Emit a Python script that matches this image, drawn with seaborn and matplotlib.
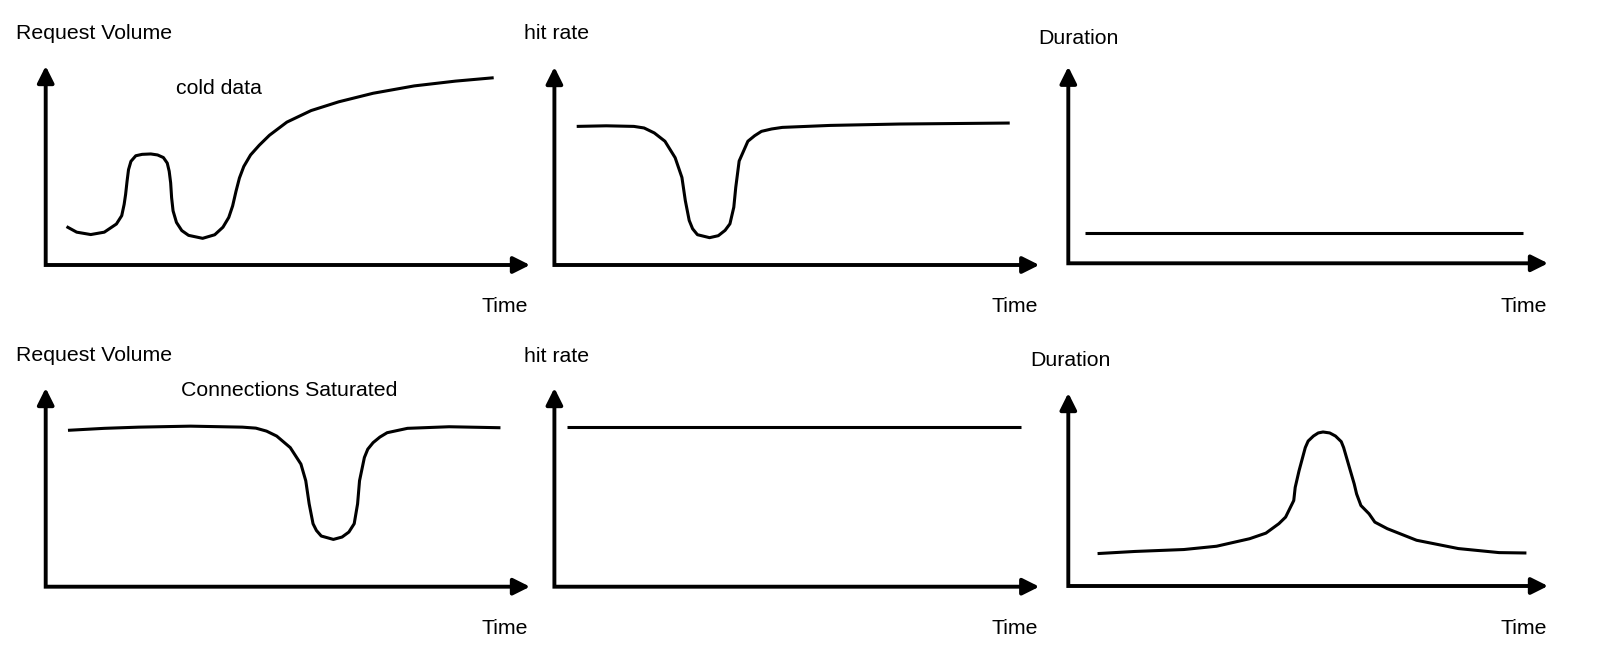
import matplotlib
matplotlib.use("Agg")
import matplotlib.pyplot as plt
import seaborn as sns
import pandas as pd

sns.set_style("white")
plt.rcParams["font.family"] = ["Liberation Sans", "DejaVu Sans"]

# ---- data (x: % of time axis length, y: % of value axis height) ----
vol_cold_x = [4.3, 6.4, 9.3, 12.1, 14.6, 15.7, 16.2, 16.5, 16.8, 17.1, 17.6, 18.6, 19.9, 21.7,
              23.1, 24.3, 25.1, 25.5, 25.8, 26.0, 26.3, 27.0, 28.1, 29.5, 32.4, 34.9, 36.6,
              37.8, 38.6, 39.3, 40.0, 40.9, 42.3, 44.1, 46.2, 49.8, 54.8, 60.5, 67.6, 76.1,
              84.6, 92.5]
vol_cold_y = [19.3, 16.5, 15.3, 16.5, 20.6, 24.8, 30.5, 35.5, 42.1, 47.9, 52.1, 54.9, 55.6, 55.8,
              55.3, 54.0, 51.2, 47.1, 41.3, 33.8, 27.2, 21.4, 17.3, 14.9, 13.4, 15.2, 19.0,
              23.9, 29.7, 37.1, 43.7, 49.5, 55.3, 60.2, 65.2, 71.8, 77.6, 82.0, 86.3, 90.0,
              92.4, 94.1]

hit_cold_x = [4.6, 10.7, 16.4, 18.5, 20.6, 22.8, 24.9, 26.3, 27.0, 27.8, 28.5, 29.5, 32.0, 33.8,
              35.2, 36.2, 37.0, 37.4, 38.1, 39.9, 41.3, 42.7, 44.8, 47.0, 56.9, 71.2, 93.9]
hit_cold_y = [70.0, 70.3, 70.0, 69.2, 66.7, 62.5, 54.2, 44.2, 32.5, 22.5, 18.3, 15.3, 13.8, 14.8,
              17.5, 20.8, 29.2, 39.2, 52.5, 62.5, 65.3, 67.5, 68.7, 69.5, 70.5, 71.2, 71.7]

dur_cold_x = [3.4, 94.7]
dur_cold_y = [15.4, 15.4]

vol_sat_x = [4.6, 12.1, 19.2, 29.9, 40.6, 43.4, 45.6, 47.7, 50.5, 52.7, 53.7, 54.4, 55.2, 55.9,
             56.9, 59.4, 61.2, 62.6, 63.7, 64.4, 64.8, 65.8, 66.5, 67.6, 69.0, 70.5, 74.7,
             83.3, 93.9]
vol_sat_y = [78.7, 79.7, 80.3, 80.8, 80.3, 79.8, 78.3, 75.8, 70.0, 61.7, 53.3, 41.7, 31.7, 28.3,
             25.5, 23.8, 25.0, 27.5, 31.7, 41.7, 53.3, 65.0, 69.2, 72.5, 75.3, 77.5, 79.7,
             80.5, 80.0]

hit_sat_x = [2.5, 96.2]
hit_sat_y = [80.5, 80.5]

dur_sat_x = [6.1, 13.9, 24.1, 30.9, 37.8, 41.2, 43.9, 45.3, 47.0, 47.3, 48.1, 49.4, 50.0, 51.1,
             52.1, 53.1, 54.5, 55.7, 56.9, 57.4, 58.8, 59.6, 60.1, 61.0, 62.7, 63.9, 66.5,
             72.6, 81.3, 89.8, 95.5]
dur_sat_y = [16.8, 17.9, 18.9, 20.6, 24.5, 27.4, 32.3, 35.7, 44.3, 51.1, 59.7, 71.7, 75.1, 77.7,
             79.3, 79.8, 79.3, 77.7, 74.8, 71.7, 59.7, 52.9, 47.7, 41.7, 37.4, 33.1, 29.7,
             23.7, 19.4, 17.3, 17.1]

y_labels = ["Request Volume", "hit rate", "Duration"]
x_label = "Time"
notes = ["cold data", "Connections Saturated"]

W, H = 1600, 656
fig = plt.figure(figsize=(W / 100, H / 100), dpi=100)
fig.patch.set_facecolor("white")

AX_LW = 2.8
arrow = dict(arrowstyle="-|>,head_length=0.5,head_width=0.25", mutation_scale=20,
             lw=AX_LW, color="black", shrinkA=0, shrinkB=0, snap=False)


def panel(origin, tipx, tipy, xs, ys):
    ox, oy = origin
    wpx, hpx = tipx - ox, oy - tipy
    ax = fig.add_axes([ox / W, 1 - oy / H, wpx / W, hpx / H])
    ax.set_xlim(0, 100)
    ax.set_ylim(0, 100)
    hx = 100 * 10 / wpx   # ~10 px before the tip (under the arrowhead)
    hy = 100 * 10 / hpx
    ax.plot([0, 0, 100 - hx], [100 - hy, 0, 0], color="black", lw=AX_LW,
            clip_on=False, solid_joinstyle="miter", solid_capstyle="butt", snap=False)
    ax.annotate("", xy=(1, 0), xytext=(1 - 1.5 * hx / 100, 0), xycoords="axes fraction",
                arrowprops=arrow, annotation_clip=False)
    ax.annotate("", xy=(0, 1), xytext=(0, 1 - 1.5 * hy / 100), xycoords="axes fraction",
                arrowprops=arrow, annotation_clip=False)
    df = pd.DataFrame({"t": xs, "v": ys})
    sns.lineplot(data=df, x="t", y="v", ax=ax, color="black", lw=2.2,
                 sort=False, estimator=None, solid_joinstyle="round",
                 solid_capstyle="butt")
    ax.axis("off")
    return ax


panel((45.7, 265), 530, 66, vol_cold_x, vol_cold_y)
panel((554.4, 265), 1039.3, 67, hit_cold_x, hit_cold_y)
panel((1068.3, 263.3), 1548, 66.7, dur_cold_x, dur_cold_y)
panel((45.7, 586.7), 530, 388, vol_sat_x, vol_sat_y)
panel((554.4, 586.7), 1039.3, 388, hit_sat_x, hit_sat_y)
panel((1068.3, 586), 1548, 393, dur_sat_x, dur_sat_y)


def txt(x, y, s, ha="left"):
    fig.text(x / W, 1 - y / H, s, fontsize=15.3, ha=ha, va="center", color="black")


txt(16, 33.5, y_labels[0])
txt(523.5, 33.5, y_labels[1])
txt(1038.3, 38.8, y_labels[2])
txt(16, 355.5, y_labels[0])
txt(523.5, 356.5, y_labels[1])
txt(1030, 360.5, y_labels[2])
txt(175.7, 88.5, notes[0])
txt(180.8, 390.5, notes[1])
for xr, yr in [(528.3, 307), (1038.3, 307), (1547, 307),
               (528.3, 629), (1038.3, 629), (1547, 629)]:
    txt(xr, yr, x_label, ha="right")

fig.savefig("out.png", dpi=100, facecolor="white")
